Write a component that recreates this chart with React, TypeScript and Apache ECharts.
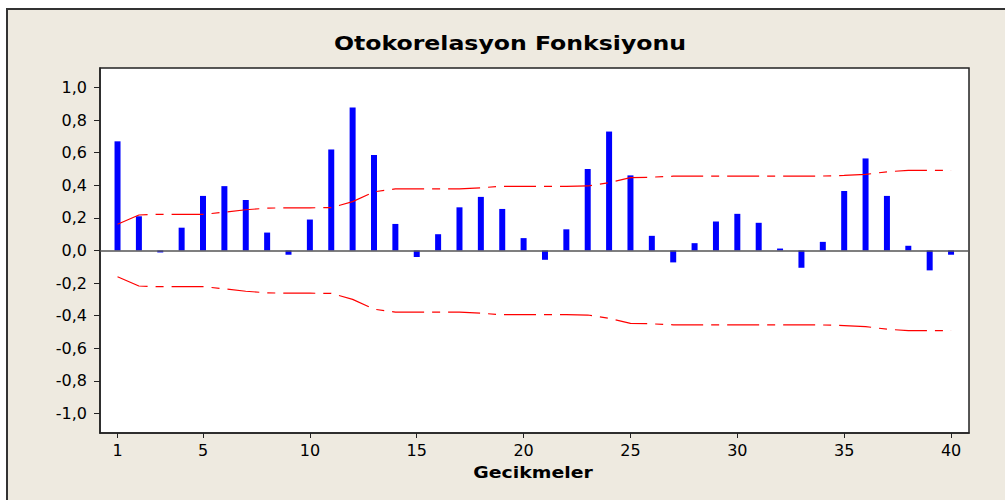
import React, { useEffect, useRef } from "react";
import * as echarts from "echarts";

const lags: number[] = Array.from({ length: 40 }, (_, i) => i + 1);
const acfValues: number[] = [
  0.67, 0.21, -0.012, 0.14, 0.335, 0.395, 0.31, 0.11, -0.026, 0.19,
  0.62, 0.878, 0.586, 0.163, -0.04, 0.10, 0.265, 0.329, 0.255, 0.076,
  -0.057, 0.13, 0.50, 0.73, 0.461, 0.09, -0.073, 0.045, 0.178, 0.225,
  0.17, 0.012, -0.106, 0.053, 0.365, 0.565, 0.335, 0.029, -0.122, -0.026,
];
const upperLimit: number[] = [
  0.161, 0.218, 0.222, 0.222, 0.222, 0.235, 0.25, 0.26, 0.262, 0.262,
  0.263, 0.30, 0.36, 0.378, 0.378, 0.378, 0.378, 0.385, 0.394, 0.394,
  0.394, 0.394, 0.396, 0.416, 0.447, 0.45, 0.456, 0.457, 0.457, 0.457,
  0.457, 0.457, 0.457, 0.457, 0.461, 0.467, 0.483, 0.492, 0.492, 0.492,
];
const xTickValues: number[] = [1, 5, 10, 15, 20, 25, 30, 35, 40];
const yTickValues: number[] = [-1, -0.8, -0.6, -0.4, -0.2, 0, 0.2, 0.4, 0.6, 0.8, 1];

const titleText = "Otokorelasyon Fonksiyonu";
const xAxisTitle = "Gecikmeler";

export default function App() {
  const ref = useRef<HTMLDivElement>(null);
  useEffect(() => {
    if (!ref.current) return;
    const chart = echarts.init(ref.current, undefined, { renderer: "svg" });
    const fmt = (v: number) =>
      Math.abs(v) < 1e-9 ? "0,0" : v.toFixed(1).replace(".", ",");
    const font = "DejaVu Sans";
    chart.setOption({
      animation: false,
      backgroundColor: "#ffffff",
      graphic: [
        {
          type: "rect",
          z: -10,
          silent: true,
          shape: { x: 7, y: 9, width: 1100, height: 600 },
          style: { fill: "#EEEAE0", stroke: "#333333", lineWidth: 2 },
        },
        {
          type: "text",
          z: 10,
          silent: true,
          x: 510,
          y: 33.5,
          scaleX: 1.18,
          style: {
            text: titleText,
            fontFamily: font,
            fontWeight: "bold",
            fontSize: 20,
            fill: "#000",
            textAlign: "center",
            textVerticalAlign: "top",
          },
        },
        {
          type: "text",
          z: 10,
          silent: true,
          x: 533,
          y: 464.5,
          scaleX: 1.18,
          style: {
            text: xAxisTitle,
            fontFamily: font,
            fontWeight: "bold",
            fontSize: 16,
            fill: "#000",
            textAlign: "center",
            textVerticalAlign: "top",
          },
        },
      ],
      grid: {
        left: 100,
        top: 68,
        right: 36,
        bottom: 67,
        show: true,
        backgroundColor: "#ffffff",
        borderColor: "#222222",
        borderWidth: 1.5,
        containLabel: false,
      },
      xAxis: {
        type: "value",
        min: 0.18,
        max: 40.84,
        axisLine: { show: true, onZero: false, lineStyle: { color: "#222", width: 1.5 } },
        axisTick: { show: true, length: 5, customValues: xTickValues, lineStyle: { color: "#222" } },
        axisLabel: {
          customValues: xTickValues,
          fontFamily: font,
          fontSize: 16,
          color: "#000",
          margin: 9,
        },
        splitLine: { show: false },
      },
      yAxis: {
        type: "value",
        min: -1.12,
        max: 1.12,
        axisLine: { show: true, onZero: false, lineStyle: { color: "#222", width: 1.5 } },
        axisTick: { show: true, length: 6, customValues: yTickValues, lineStyle: { color: "#222" } },
        axisLabel: {
          customValues: yTickValues,
          formatter: (v: number) => fmt(v),
          fontFamily: font,
          fontSize: 16,
          color: "#000",
          margin: 13,
        },
        splitLine: { show: false },
      },
      series: [
        {
          type: "bar",
          barWidth: 6,
          data: lags.map((l, i) => [l, acfValues[i]]),
          itemStyle: { color: "#0000FF" },
          markLine: {
            silent: true,
            symbol: "none",
            label: { show: false },
            lineStyle: { color: "#555555", width: 1.5, type: "solid" },
            data: [{ yAxis: 0 }],
          },
          z: 3,
        },
        {
          type: "line",
          data: lags.map((l, i) => [l, upperLimit[i]]),
          showSymbol: false,
          symbol: "none",
          lineStyle: { color: "#FF0000", width: 1.2, type: [32, 8, 8, 8] },
          z: 4,
        },
        {
          type: "line",
          data: lags.map((l, i) => [l, -upperLimit[i]]),
          showSymbol: false,
          symbol: "none",
          lineStyle: { color: "#FF0000", width: 1.2, type: [32, 8, 8, 8] },
          z: 4,
        },
      ],
    });
    return () => chart.dispose();
  }, []);
  return (
    <div
      ref={ref}
      style={{ position: "fixed", left: 0, top: 0, width: 1005, height: 500 }}
    />
  );
}
